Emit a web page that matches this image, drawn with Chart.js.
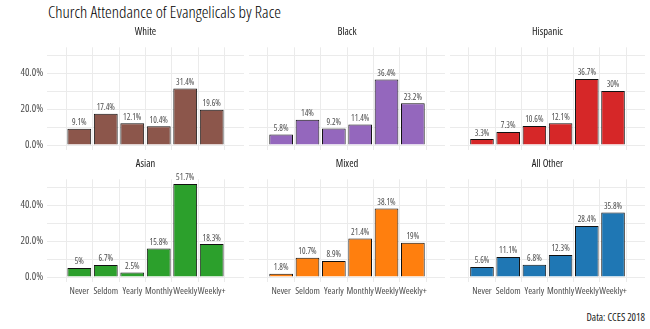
<!DOCTYPE html>
<html>
<head>
<meta charset="utf-8">
<script src="https://cdn.jsdelivr.net/npm/chart.js"></script>
<style>
  body { margin: 0; background: #fff; }
  #wrap { position: relative; width: 650px; height: 329px; overflow: hidden;
          font-family: 'Open Sans', sans-serif; font-stretch: condensed; }
  canvas { position: absolute; }
  #title { position: absolute; left: 48px; top: 1px; font-size: 17px; font-weight: 300; line-height: 22px; color: #000; white-space: nowrap; }
  #caption { position: absolute; right: 5px; top: 310px; font-size: 10.5px; color: #1a1a1a; white-space: nowrap; }
</style>
</head>
<body>
<div id="wrap">
  <div id="title">Church Attendance of Evangelicals by Race</div>
  <canvas id="p0"></canvas><canvas id="p1"></canvas><canvas id="p2"></canvas>
  <canvas id="p3"></canvas><canvas id="p4"></canvas><canvas id="p5"></canvas>
  <div id="caption">Data: CCES 2018</div>
</div>
<script>
// attendance categories and share of evangelicals (%) per group
var categories = ['Never', 'Seldom', 'Yearly', 'Monthly', 'Weekly', 'Weekly+'];
var groups = ['White', 'Black', 'Hispanic', 'Asian', 'Mixed', 'All Other'];
var white    = [9.1, 17.4, 12.1, 10.4, 31.4, 19.6];
var black    = [5.8, 14, 9.2, 11.4, 36.4, 23.2];
var hispanic = [3.3, 7.3, 10.6, 12.1, 36.7, 30];
var asian    = [5, 6.7, 2.5, 15.8, 51.7, 18.3];
var mixed    = [1.8, 10.7, 8.9, 21.4, 38.1, 19];
var allOther = [5.6, 11.1, 6.8, 12.3, 28.4, 35.8];
var yGrid    = [0, 10, 20, 30, 40, 50];
var yLabels  = [0, 20, 40];

var series = [white, black, hispanic, asian, mixed, allOther];
var colors = ['#8c564b', '#9467bd', '#d62728', '#2ca02c', '#ff7f0e', '#1f77b4'];

var FONT = "'Open Sans', sans-serif";
var GRID = '#ebebeb';

// panel boxes: left edge / width of canvas, y-axis width, row tops
var cols = [{left: 0, width: 244, axis: 47}, {left: 249, width: 196, axis: 0}, {left: 450, width: 195, axis: 0}];
var rows = [{top: 20, height: 132, xAxis: 2.3}, {top: 152, height: 152, xAxis: 22.3}];

// value labels above bars + strip label above each panel
var barText = {
  id: 'barText',
  afterDatasetsDraw: function(chart) {
    var ctx = chart.ctx, area = chart.chartArea;
    var vals = chart.data.datasets[0].data;
    ctx.save();
    ctx.fillStyle = '#4d4d4d';
    ctx.font = 'normal condensed 8.5px ' + FONT;
    ctx.textAlign = 'center';
    ctx.textBaseline = 'middle';
    chart.getDatasetMeta(0).data.forEach(function(bar, i) {
      ctx.fillText(vals[i].y + '%', bar.x, bar.y - 6);
    });
    ctx.fillStyle = '#1a1a1a';
    ctx.font = 'normal condensed 10.5px ' + FONT;
    ctx.fillText(chart.options.plugins.strip, (area.left + area.right) / 2, area.top - 15.5);
    ctx.restore();
  }
};

function makePanel(k) {
  var col = cols[k % 3], row = rows[Math.floor(k / 3)];
  var el = document.getElementById('p' + k);
  el.style.left = col.left + 'px';
  el.style.top = row.top + 'px';
  el.width = col.width;
  el.height = row.height;
  var bottomRow = k >= 3;

  return new Chart(el, {
    type: 'bar',
    data: {
      datasets: [{
        data: series[k].map(function(v, i) { return {x: i + 1, y: v}; }),
        backgroundColor: colors[k],
        borderColor: '#111',
        borderWidth: 1,
        barPercentage: 0.9,
        categoryPercentage: 1
      }]
    },
    options: {
      responsive: false,
      animation: false,
      layout: {padding: {top: 27.3, left: 0, right: 0, bottom: 0}},
      plugins: {legend: {display: false}, tooltip: {enabled: false}, strip: groups[k]},
      scales: {
        x: {
          type: 'linear', min: 0.4, max: 6.6,
          afterBuildTicks: function(s) { s.ticks = categories.map(function(c, i) { return {value: i + 1}; }); },
          afterFit: function(s) { s.height = row.xAxis; s.paddingLeft = 0; s.paddingRight = 0; },
          grid: {color: GRID, drawTicks: false},
          border: {display: false},
          ticks: {
            display: bottomRow, padding: 4, maxRotation: 0, autoSkip: false,
            color: '#4d4d4d', font: {family: FONT, size: 9.5, weight: 'condensed'},
            callback: function(v) { return categories[v - 1]; }
          }
        },
        y: {
          min: -2.585, max: 54.285,
          afterBuildTicks: function(s) { s.ticks = yGrid.map(function(v) { return {value: v}; }); },
          // keep the plot box fixed: no room reserved for half tick labels
          afterFit: function(s) { s.width = col.axis; s.paddingTop = 0; s.paddingBottom = 0; },
          grid: {color: GRID, drawTicks: false},
          border: {display: false},
          ticks: {
            display: col.axis > 0, padding: 4,
            color: '#4d4d4d', font: {family: FONT, size: 10.5, weight: 'condensed'},
            callback: function(v) { return yLabels.indexOf(v) >= 0 ? v.toFixed(1) + '%' : ''; }
          }
        }
      }
    },
    plugins: [barText]
  });
}

for (var k = 0; k < 6; k++) makePanel(k);
</script>
</body>
</html>
